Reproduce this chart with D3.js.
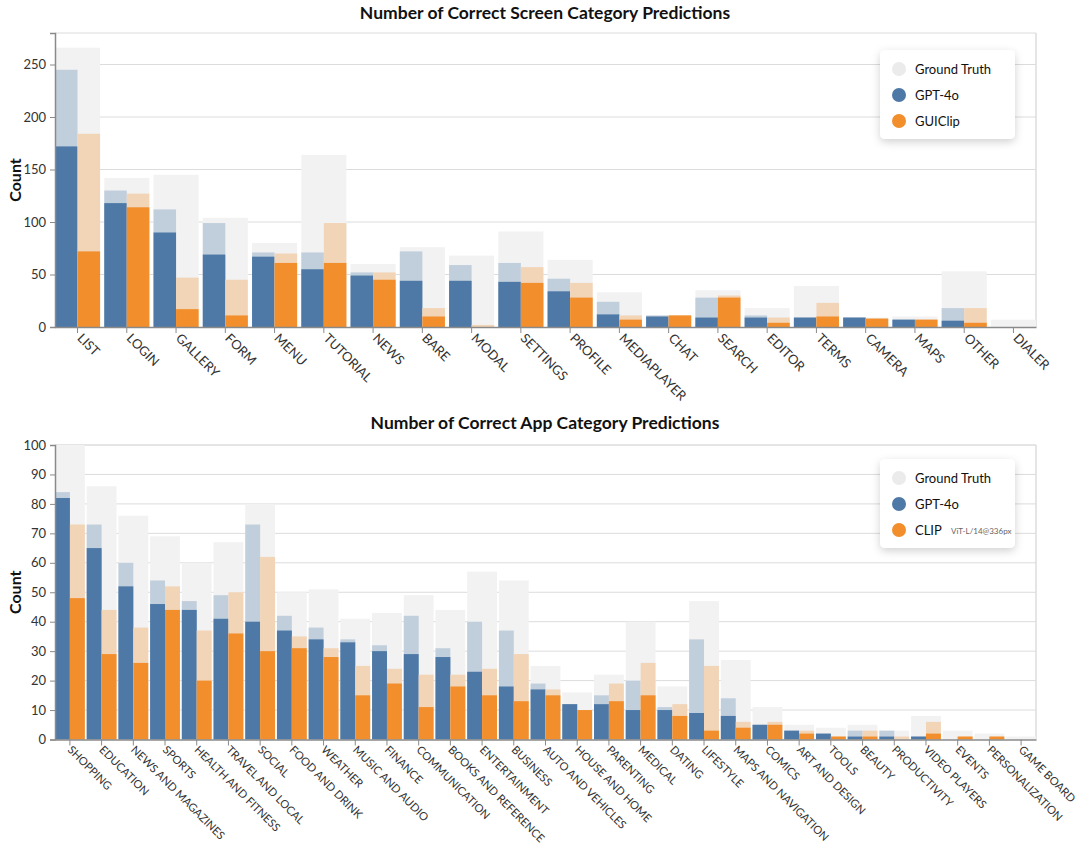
<!DOCTYPE html>
<html>
<head>
<meta charset="utf-8">
<script src="https://cdn.jsdelivr.net/npm/d3@7"></script>
<style>
  html, body { margin: 0; padding: 0; background: #fff; }
  svg { display: block; font-family: Lato, "Noto Sans", sans-serif; }
</style>
</head>
<body>
<svg id="chart" width="1078" height="851"></svg>
<script>
// ---------- DATA ----------
const screenCategories = ["LIST","LOGIN","GALLERY","FORM","MENU","TUTORIAL","NEWS","BARE","MODAL","SETTINGS","PROFILE","MEDIAPLAYER","CHAT","SEARCH","EDITOR","TERMS","CAMERA","MAPS","OTHER","DIALER"];
const screenGroundTruth = [266,142,145,104,80,164,60,76,68,91,64,33,11,35,18,39,9,10,53,7];
const screenGptPredicted = [245,130,112,99,71,71,52,72,59,61,46,24,11,28,11,9,9,7,18,0];
const screenGptCorrect   = [172,118,90,69,67,55,49,44,44,43,34,12,10,9,9,9,9,7,6,0];
const screenClipPredicted = [184,127,47,45,70,99,52,18,2,57,42,11,11,30,9,23,8,7,18,0];
const screenClipCorrect   = [72,114,17,11,61,61,45,10,0,42,28,7,11,28,4,10,8,7,4,0];
const screenYTicks = [0,50,100,150,200,250];

const appCategories = ["SHOPPING","EDUCATION","NEWS AND MAGAZINES","SPORTS","HEALTH AND FITNESS","TRAVEL AND LOCAL","SOCIAL","FOOD AND DRINK","WEATHER","MUSIC AND AUDIO","FINANCE","COMMUNICATION","BOOKS AND REFERENCE","ENTERTAINMENT","BUSINESS","AUTO AND VEHICLES","HOUSE AND HOME","PARENTING","MEDICAL","DATING","LIFESTYLE","MAPS AND NAVIGATION","COMICS","ART AND DESIGN","TOOLS","BEAUTY","PRODUCTIVITY","VIDEO PLAYERS","EVENTS","PERSONALIZATION","GAME BOARD"];
const appGroundTruth = [100,86,76,69,60,67,80,50,51,41,43,49,44,57,54,25,16,22,40,18,47,27,11,5,4,5,3,8,3,2,1];
const appGptPredicted = [84,73,60,54,47,49,73,42,38,34,32,42,31,40,37,19,12,15,20,11,34,14,5,3,2,3,3,1,0,0,0];
const appGptCorrect   = [82,65,52,46,44,41,40,37,34,33,30,29,28,23,18,17,12,12,10,10,9,8,5,3,2,1,1,1,0,0,0];
const appClipPredicted = [73,44,38,52,37,50,62,35,31,25,24,22,22,24,29,17,10,19,26,12,25,6,6,3,1,3,1,6,1,1,0];
const appClipCorrect   = [48,29,26,44,20,36,30,31,28,15,19,11,18,15,13,15,10,13,15,8,3,4,5,2,1,1,0,2,1,1,0];
const appYTicks = [0,10,20,30,40,50,60,70,80,90,100];

// ---------- STYLE ----------
const C = {
  gt: "#f2f2f2", gtLegend: "#ebebeb",
  blue: "#4e79a7", blueLight: "#c1cfdd",
  orange: "#f28e2b", orangeLight: "#f2d4b7",
  grid: "#dcdcdc", axis: "#8a8a8a", text: "#333"
};

const svg = d3.select("#chart");
const defs = svg.append("defs");
const f = defs.append("filter").attr("id","shadow").attr("x","-20%").attr("y","-20%").attr("width","140%").attr("height","150%");
f.append("feDropShadow").attr("dx",0).attr("dy",3).attr("stdDeviation",4).attr("flood-color","#000").attr("flood-opacity",0.18);

function drawPanel(opts) {
  const { cats, gt, gptP, gptC, clipP, clipC, yMax, yTicks, top, bottom, title, titleY, pad, labelSize, labelShift, legend, legendTop } = opts;
  const left = 55, right = 1036;
  const x = d3.scaleBand().domain(cats).range([left, right]).paddingInner(pad).paddingOuter(0);
  const y = d3.scaleLinear().domain([0, yMax]).range([bottom, top]);
  const g = svg.append("g");

  g.append("line").attr("x1",left).attr("x2",right).attr("y1",top).attr("y2",top).attr("stroke",C.grid).attr("stroke-width",1);
  g.append("line").attr("x1",right).attr("x2",right).attr("y1",top).attr("y2",bottom).attr("stroke",C.grid).attr("stroke-width",1.5);

  g.append("g").selectAll("line").data(yTicks.filter(t => t > 0)).join("line")
    .attr("x1",left).attr("x2",right).attr("y1",d=>y(d)).attr("y2",d=>y(d))
    .attr("stroke",C.grid).attr("stroke-width",1);

  const bw = x.bandwidth(), hw = bw/2;
  const idx = cats.map((c,i)=>i);
  const bars = g.append("g");
  bars.selectAll(".gt").data(idx).join("rect")
    .attr("x", i => x(cats[i])).attr("width", bw)
    .attr("y", i => y(gt[i])).attr("height", i => y(0) - y(gt[i])).attr("fill", C.gt);
  bars.selectAll(".gp").data(idx).join("rect")
    .attr("x", i => x(cats[i])).attr("width", hw)
    .attr("y", i => y(gptP[i])).attr("height", i => y(0) - y(gptP[i])).attr("fill", C.blueLight);
  bars.selectAll(".gc").data(idx).join("rect")
    .attr("x", i => x(cats[i])).attr("width", hw)
    .attr("y", i => y(gptC[i])).attr("height", i => y(0) - y(gptC[i])).attr("fill", C.blue);
  bars.selectAll(".cp").data(idx).join("rect")
    .attr("x", i => x(cats[i]) + hw).attr("width", hw)
    .attr("y", i => y(clipP[i])).attr("height", i => y(0) - y(clipP[i])).attr("fill", C.orangeLight);
  bars.selectAll(".cc").data(idx).join("rect")
    .attr("x", i => x(cats[i]) + hw).attr("width", hw)
    .attr("y", i => y(clipC[i])).attr("height", i => y(0) - y(clipC[i])).attr("fill", C.orange);

  const ya = g.append("g").attr("transform",`translate(${left},0)`)
    .call(d3.axisLeft(y).tickValues(yTicks).tickSize(5).tickPadding(4));
  ya.select(".domain").attr("stroke",C.axis).attr("stroke-width",1.5);
  ya.selectAll(".tick line").attr("stroke",C.axis);
  ya.selectAll(".tick text").attr("fill",C.text).style("font-size","13px").style("font-family","Lato, sans-serif");

  const xa = g.append("g").attr("transform",`translate(0,${bottom})`)
    .call(d3.axisBottom(x).tickSize(6).tickSizeOuter(0));
  xa.select(".domain").attr("stroke",C.axis).attr("stroke-width",1.5);
  xa.selectAll(".tick line").attr("stroke",C.axis);
  xa.selectAll(".tick text")
    .attr("fill",C.text).style("font-size",labelSize+"px").style("font-family","Lato, sans-serif")
    .attr("text-anchor","start").attr("dy",null).attr("y",null)
    .attr("transform",`translate(${labelShift[0]},${labelShift[1]}) rotate(45)`);

  svg.append("text").attr("x",545).attr("y",titleY).attr("text-anchor","middle")
    .style("font-size","17.5px").style("font-weight","700").attr("fill","#111").text(title);
  svg.append("text").attr("transform",`translate(21,${(top+bottom)/2}) rotate(-90)`).attr("text-anchor","middle")
    .style("font-size","16px").style("font-weight","700").attr("fill","#111").text("Count");

  const lg = svg.append("g").attr("transform",`translate(880,${legendTop})`);
  lg.append("rect").attr("width",135).attr("height",89).attr("rx",5).attr("fill","#fff").attr("filter","url(#shadow)");
  const items = [
    {label:"Ground Truth", color:C.gtLegend},
    {label:"GPT-4o", color:C.blue},
    {label:legend, color:C.orange}
  ];
  items.forEach((it,k) => {
    const yy = 19 + k*26;
    lg.append("circle").attr("cx",19).attr("cy",yy).attr("r",7).attr("fill",it.color);
    lg.append("text").attr("x",35).attr("y",yy+4.5).style("font-size","13px").attr("fill","#111").text(it.label);
    if (it.label === "CLIP") {
      lg.append("text").attr("x",71).attr("y",yy+4).style("font-size","8px").attr("fill","#666").text("ViT-L/14@336px");
    }
  });
}

drawPanel({
  cats: screenCategories, gt: screenGroundTruth, gptP: screenGptPredicted, gptC: screenGptCorrect,
  clipP: screenClipPredicted, clipC: screenClipCorrect, yMax: 280, yTicks: screenYTicks,
  top: 33, bottom: 327, title: "Number of Correct Screen Category Predictions", titleY: 19,
  pad: 0.085, labelSize: 13, labelShift: [-1, 12], legend: "GUIClip", legendTop: 50
});
drawPanel({
  cats: appCategories, gt: appGroundTruth, gptP: appGptPredicted, gptC: appGptCorrect,
  clipP: appClipPredicted, clipC: appClipCorrect, yMax: 100, yTicks: appYTicks,
  top: 445, bottom: 739.5, title: "Number of Correct App Category Predictions", titleY: 429,
  pad: 0.06, labelSize: 11.2, labelShift: [-3, 11], legend: "CLIP", legendTop: 459
});
</script>
</body>
</html>
